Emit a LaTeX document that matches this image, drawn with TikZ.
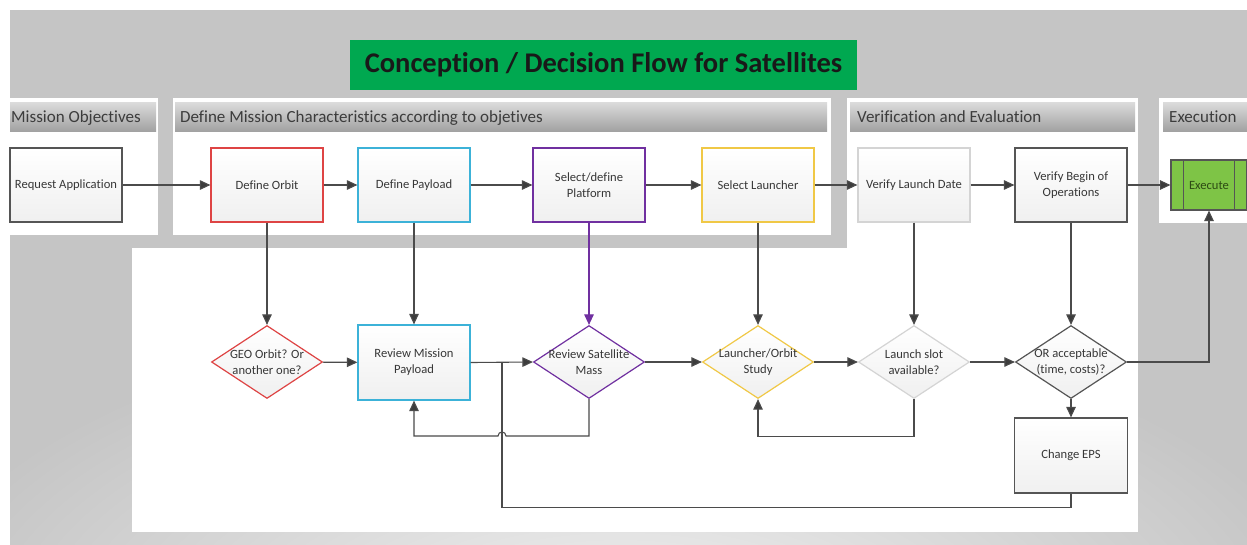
\documentclass[tikz,border=0pt]{standalone}
\usepackage{fontspec}
\setmainfont{Carlito}[Ligatures={NoCommon,NoContextual,NoRare}]
\usetikzlibrary{shapes.geometric,arrows.meta}
\definecolor{bggray}{RGB}{197,197,197}
\definecolor{hdtop}{RGB}{220,220,220}
\definecolor{hdbot}{RGB}{162,162,162}
\definecolor{titlegreen}{RGB}{0,168,80}
\definecolor{exgreen}{RGB}{126,196,70}
\definecolor{extext}{RGB}{45,75,20}
\definecolor{txtgray}{RGB}{55,55,55}
\definecolor{hdtext}{RGB}{60,60,60}
\definecolor{linegray}{RGB}{75,75,75}
\definecolor{tipgray}{RGB}{60,60,60}
\definecolor{redc}{RGB}{222,68,68}
\definecolor{cyanc}{RGB}{60,178,216}
\definecolor{purc}{RGB}{112,48,160}
\definecolor{goldc}{RGB}{240,200,70}
\definecolor{ltgray}{RGB}{212,212,212}
\definecolor{dkgray}{RGB}{85,85,85}
\begin{document}
\begin{tikzpicture}[x=1pt,y=-1pt,
  nodefont/.style={font=\fontsize{12.6}{16}\selectfont},
  box/.style={draw=#1, line width=1.2pt, top color=white, bottom color=gray!12,
    minimum width=112pt, minimum height=74pt, inner sep=1pt, align=center,
    nodefont, text=txtgray},
  dia/.style={diamond, draw=#1, line width=1.2pt, top color=white, bottom color=gray!12,
    minimum width=111pt, minimum height=73pt, inner sep=0pt},
  lbl/.style={align=center, nodefont, text=txtgray, inner sep=0pt},
  panel/.style={fill=white},
  header/.style={top color=hdtop, bottom color=hdbot, draw=none},
  hdtxt/.style={anchor=base west, font=\fontsize{17}{20}\selectfont, text=hdtext, inner sep=0pt},
  conn/.style={draw=linegray, line width=1.1pt, -{Triangle[length=10.5pt,width=9.5pt,fill=tipgray]}},
  plain/.style={draw=linegray, line width=1.1pt}
]
\useasboundingbox (0,0) rectangle (1247,544);
% background
\fill[white] (0,0) rectangle (1247,544);
\fill[bggray] (10,10) rectangle (1247,544);
\begin{scope}
  \clip (10,10) rectangle (1247,544);
  \shade[inner color=gray!10, outer color=bggray] (620,640) ellipse [x radius=720, y radius=330];
\end{scope}
% panels
\fill[panel] (10,98) rectangle (158,235);
\fill[panel] (173,98) rectangle (831,235);
\fill[panel] (847,98) rectangle (1138,532);
\fill[panel] (132,248) rectangle (1138,532);
\fill[panel] (1159,98) rectangle (1247,223);
% headers
\shade[header] (10,102) rectangle (156,131);
\shade[header] (175,102) rectangle (827,131);
\shade[header] (850,102) rectangle (1135,131);
\shade[header] (1163,102) rectangle (1247,131);
\node[hdtxt] (h1) at (11,122.5) {Mission Objectives};
\node[hdtxt] (h2) at (180,122.5) {Define Mission Characteristics according to objetives};
\node[hdtxt] (h3) at (857,122.5) {Verification and Evaluation};
\node[hdtxt] (h4) at (1169,122.5) {Execution};
% title
\node[fill=titlegreen, minimum width=507pt, minimum height=50pt, inner sep=0pt,
  font=\fontsize{28.5}{32}\selectfont\bfseries, text=black!90] (title) at (603.5,65) {Conception / Decision Flow for Satellites};
% top row
\node[box=dkgray] (req) at (66,185) {Request Application};
\node[box=redc] (orb) at (267,185) {Define Orbit};
\node[box=cyanc] (pay) at (414,185) {Define Payload};
\node[box=purc] (plat) at (589,185) {Select/define\\Platform};
\node[box=goldc] (lau) at (758,185) {Select Launcher};
\node[box=ltgray] (vld) at (914,185) {Verify Launch Date};
\node[box=dkgray] (vbo) at (1071,185) {Verify Begin of\\Operations};
\node[draw=dkgray, fill=exgreen, line width=1.1pt, minimum width=76pt, minimum height=50pt,
  inner sep=0pt, nodefont, text=extext] (exe) at (1209,185) {Execute};
\draw[draw=dkgray, line width=1pt] ([xshift=13pt]exe.north west) -- ([xshift=13pt]exe.south west);
\draw[draw=dkgray, line width=1pt] ([xshift=-13pt]exe.north east) -- ([xshift=-13pt]exe.south east);
% second row
\node[dia=redc] (geo) at (267,362) {};
\node[lbl] (geot) at (geo) {GEO Orbit? Or\\another one?};
\node[box=cyanc, minimum height=75pt] (rmp) at (414,362.5) {Review Mission\\Payload};
\node[dia=purc] (rsm) at (589,362) {};
\node[lbl] (rsmt) at (rsm) {Review Satellite\\Mass};
\node[dia=goldc] (los) at (758,362) {};
\node[lbl] (lost) at (los) {Launcher/Orbit\\Study};
\node[dia=ltgray] (lsa) at (914,362) {};
\node[lbl] (lsat) at (lsa) {Launch slot\\available?};
\node[dia=dkgray] (ora) at (1071,362) {};
\node[lbl] (orat) at (ora) {OR acceptable\\(time, costs)?};
\node[box=dkgray, minimum width=113pt, minimum height=75pt] (eps) at (1071,455.5) {Change EPS};
\coordinate (hop) at (502,436);
\coordinate (join) at (502,362);
% connectors top row
\draw[conn] (req) -- (orb);
\draw[conn] (orb) -- (pay);
\draw[conn] (pay) -- (plat);
\draw[conn] (plat) -- (lau);
\draw[conn] (lau) -- (vld);
\draw[conn] (vld) -- (vbo);
\draw[conn] (vbo) -- (exe);
% vertical connectors
\draw[conn] (orb) -- (geo);
\draw[conn] (pay) -- (rmp);
\draw[conn, draw=purc, -{Triangle[length=10.5pt,width=9.5pt,fill=purc]}] (plat) -- (rsm);
\draw[conn] (lau) -- (los);
\draw[conn] (vld) -- (lsa);
\draw[conn] (vbo) -- (ora);
% second row connectors
\draw[conn] (geo) -- (rmp);
\draw[conn] (rmp.east) -- (rsm.west);
\draw[conn] (rsm) -- (los);
\draw[conn] (los) -- (lsa);
\draw[conn] (lsa) -- (ora);
\draw[conn] (ora.east) -| (exe.south);
\draw[conn] (ora) -- (eps);
% feedback loops
\draw[conn] (rsm.south) |- ([xshift=4pt]hop) .. controls +(0,-5.3) and +(0,-5.3) .. ([xshift=-4pt]hop) -| (rmp.south);
\draw[conn] (lsa.south) -- ++(0,37) -| (los.south);
\draw[plain] (eps.south) -- ++(0,13.5) -| (join);
\end{tikzpicture}
\end{document}
